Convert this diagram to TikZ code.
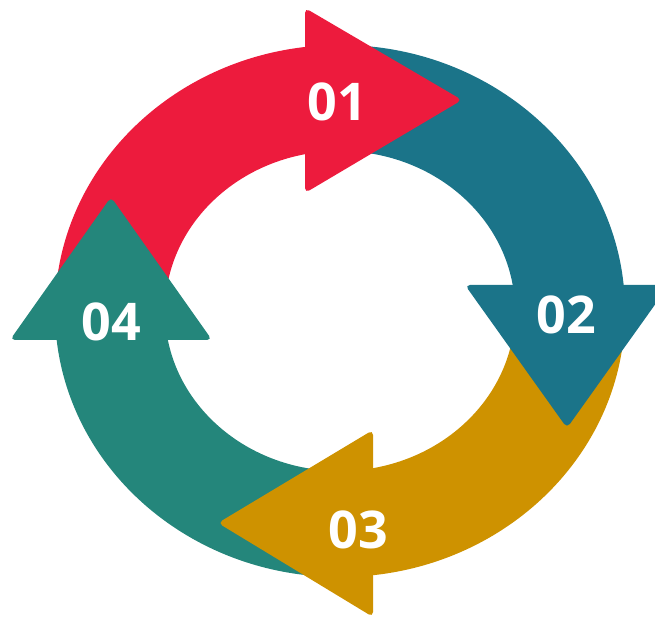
\documentclass[tikz,border=0pt]{standalone}
\usepackage{fontspec}
\setsansfont{Open Sans}
\usetikzlibrary{calc}

\definecolor{redstep}{RGB}{237,27,61}
\definecolor{tealstep}{RGB}{27,116,137}
\definecolor{goldstep}{RGB}{206,146,0}
\definecolor{greenstep}{RGB}{36,134,123}

% one quarter of the ring: colour, start angle, end angle
\newcommand{\ringpart}[3]{%
  \fill[#1] ($(c)+(#2:285pt and 266pt)$)
    arc[start angle=#2, end angle=#3, x radius=285pt, y radius=266pt]
    -- ($(c)+(#3:175pt and 160pt)$)
    arc[start angle=#3, end angle=#2, x radius=175pt, y radius=160pt] -- cycle;}

\begin{document}
\begin{tikzpicture}[x=1pt, y=1pt,
    stephead/.style={rounded corners=5pt},
    num/.style={text=white, font=\sffamily\bfseries\fontsize{52}{52}\selectfont}]
  \useasboundingbox (0,0) rectangle (655,620);
  \coordinate (c) at (340,309);

  % bands
  \ringpart{redstep}{180}{90}
  \ringpart{tealstep}{90}{0}
  \ringpart{goldstep}{0}{-90}
  \ringpart{greenstep}{-90}{-180}

  % arrow heads
  \fill[stephead, redstep] (305,612) -- (462,520) -- (305,427) -- cycle;
  \fill[stephead, tealstep] (465,335) -- (669,335) -- (567,192) -- cycle;
  \fill[stephead, goldstep] (373,190) -- (218,97) -- (373,3) -- cycle;
  \fill[stephead, greenstep] (10,280) -- (111,423) -- (212,280) -- cycle;

  % numbers
  \node[num] (n01) at (337,518) {01};
  \node[num] (n02) at (566,305) {02};
  \node[num] (n03) at (358,90) {03};
  \node[num] (n04) at (111,298) {04};
\end{tikzpicture}
\end{document}
